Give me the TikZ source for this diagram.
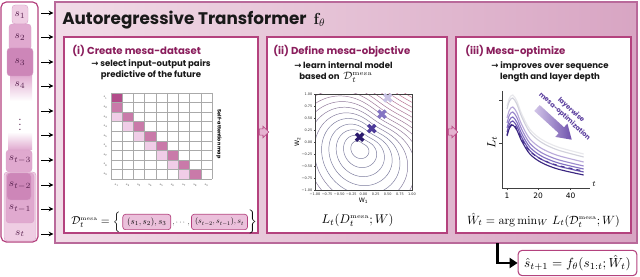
\documentclass[tikz,border=0pt]{standalone}
\usepackage{amsmath}
\usepackage{graphicx}
\usepackage[no-math]{fontspec}
\setmainfont{Poppins}
\newfontfamily\dejavu{DejaVu Sans}
\newfontfamily\lmr{Latin Modern Roman}
\usetikzlibrary{fit,shapes.arrows,arrows.meta,positioning}
\definecolor{mainL}{HTML}{F1DCE7}
\definecolor{mainR}{HTML}{D8A5C3}
\definecolor{mainB}{HTML}{B9699A}
\definecolor{panelB}{HTML}{B4427E}
\definecolor{titleC}{HTML}{8A1D5C}
\definecolor{tokL}{HTML}{EFCDE3}
\definecolor{tokM}{HTML}{E0A9CF}
\definecolor{tokD}{HTML}{CD86B8}
\definecolor{tokB}{HTML}{D9A0C8}
\definecolor{tokT}{HTML}{5A2350}
\definecolor{cellD}{HTML}{B24C8A}
\definecolor{cellM}{HTML}{C97AA9}
\definecolor{cellL}{HTML}{F0CDE7}
\definecolor{gridC}{HTML}{AAAAAA}
\definecolor{ctrA}{HTML}{7C7C9E}
\definecolor{ctrB}{HTML}{C46A8C}
\definecolor{crA}{HTML}{2B1A6E}
\definecolor{crB}{HTML}{4E3C9A}
\definecolor{crC}{HTML}{8474C2}
\definecolor{crD}{HTML}{C9C2E4}
\definecolor{boxF}{HTML}{EBC0DB}
\definecolor{harrF}{HTML}{E6B3D1}
\definecolor{lcA}{HTML}{E8E8EC}
\definecolor{lcB}{HTML}{D2D2DC}
\definecolor{lcC}{HTML}{B9AADA}
\definecolor{lcD}{HTML}{9C8ACE}
\definecolor{lcE}{HTML}{8270C2}
\definecolor{lcF}{HTML}{6A55B0}
\definecolor{lcG}{HTML}{4A3592}
\definecolor{lcH}{HTML}{3A2580}
\definecolor{arrL}{HTML}{D2C5E8}
\definecolor{arrR}{HTML}{6F52AD}
\definecolor{arrT}{HTML}{5B3E9E}
\newcommand\myarr{{\dejavu\bfseries →}}
\newcommand\fitw[2]{\resizebox{#1}{!}{#2}}
\newcommand\msa{^{\scriptscriptstyle\mathrm{mesa}}}
\begin{document}
\begin{tikzpicture}[x=0.75pt,y=-0.75pt,
  declare function={gg(\t)=0.15-0.07*(0.5+0.5*cos(\t-45))*(0.5+0.5*cos(\t-45))*(0.5+0.5*cos(\t-45))+0.05*(0.5+0.5*cos(\t+45))*(0.5+0.5*cos(\t+45));},
  mainbox/.style={draw=mainB, line width=0.8pt, left color=mainL, right color=mainR, inner sep=0pt},
  panel/.style={draw=panelB, line width=1pt, fill=white, inner sep=0pt},
  ttl/.style={font=\fontsize{12.6}{14}\selectfont\bfseries, text=black!90, inner sep=0pt, anchor=west},
  ptitle/.style={font=\fontsize{7.6}{9}\selectfont\bfseries, text=titleC, inner sep=0pt, anchor=west},
  pbody/.style={font=\fontsize{6.4}{8.6}\selectfont\bfseries, text=black!90, inner sep=0pt, align=center},
  tok/.style={draw=tokB, line width=0.3pt, rounded corners=2.5pt},
  toklab/.style={font=\fontsize{8}{10}\selectfont, text=tokT, inner sep=0pt},
  inarrow/.style={-{Stealth[length=3.6pt,width=3.4pt]}, line width=0.6pt},
  hollow/.style={single arrow, draw=panelB, fill=harrF, line width=0.5pt, minimum height=6.5pt, inner sep=2.1pt, single arrow head extend=2pt},
  mlab/.style={font=\fontsize{2.8}{3}\selectfont, text=black!70, inner sep=0pt},
  tlab/.style={font=\fontsize{2.6}{3}\selectfont, text=black!80, inner sep=0pt},
  fbox/.style={draw=panelB, fill=boxF, line width=0.5pt, rounded corners=2pt, inner sep=0pt, minimum height=11.5pt},
  outbox/.style={draw=panelB, fill=white, line width=0.8pt, rounded corners=3pt, minimum width=89pt, minimum height=19pt, inner sep=0pt},
  arrtext/.style={font=\fontsize{5}{6}\selectfont\bfseries, text=arrT, inner sep=0pt}
]
\useasboundingbox (0,0) rectangle (640,277);

% ---------- main box ----------
\node[mainbox, fit={(55,2) (637,243)}] (main) {};
\node[ttl] (title) at (62,20) {Autoregressive Transformer \ {\fontsize{12}{14}\selectfont$\mathbf{f}_{\theta}$}};

\node[panel, fit={(64,37) (258,233)}] (p1) {};
\node[panel, fit={(267,37) (447,233)}] (p2) {};
\node[panel, fit={(456,37) (631,233)}] (p3) {};
\node[hollow] (h1) at (262.5,132) {};
\node[hollow] (h2) at (451.5,132) {};

% ---------- left column ----------
\node[draw=panelB, fill=white, line width=0.9pt, rounded corners=4pt, inner sep=0pt, fit={(1,2) (38,242)}] (col) {};
\draw[tok, fill=tokL] (12,5) rectangle (28,24);
\draw[tok, fill=tokM] (9,24) rectangle (31,50);
\shade[top color=tokM, bottom color=white] (10,75) rectangle (32,101);
\draw[tok, fill=tokD] (7,48) rectangle (33,76);
\shade[top color=white, bottom color=tokM] (8,132) rectangle (32,150);
\draw[tok, fill=tokM] (6,150) rectangle (32,172);
\draw[tok, fill=tokL] (4,172) rectangle (36,241);
\draw[tok, fill=tokM] (6,173) rectangle (34,223);
\draw[tok, fill=tokD] (7,173) rectangle (31,200);
\node[toklab] (t1) at (20,15) {$s_1$};
\node[toklab] (t2) at (20,37) {$s_2$};
\node[toklab] (t3) at (20,62) {$s_3$};
\node[toklab] (t4) at (20,85) {$s_4$};
\node[toklab] (tv) at (20,121) {$\vdots$};
\node[toklab] (t5) at (20,160) {$s_{t-3}$};
\node[toklab] (t6) at (20,186) {$s_{t-2}$};
\node[toklab] (t7) at (20,209) {$s_{t-1}$};
\node[toklab] (t8) at (20,234) {$s_t$};
\foreach \yy in {13,37,62,86,111,135,160,185,209,234} {
  \coordinate (as) at (41,\yy);
  \coordinate (ae) at (53.5,\yy);
  \draw[inarrow] (as) -- (ae);
}

% ---------- panel (i) ----------
\node[ptitle] (p1t) at (72,51) {(i) Create mesa-dataset};
\node[pbody] (p1b) at (151,69.5) {\myarr\ select input-output pairs\\predictive of the future};
\fill[cellD] (111,93) rectangle ({111+11.222},{93+9.556});
\fill[cellM] (111,{93+9.556}) rectangle ({111+11.222},{93+2*9.556});
\foreach \r in {3,...,9} {
  \fill[cellL] ({111+(\r-3)*11.222},{93+(\r-1)*9.556}) rectangle ({111+(\r-2)*11.222},{93+\r*9.556});
  \fill[cellM] ({111+(\r-2)*11.222},{93+(\r-1)*9.556}) rectangle ({111+(\r-1)*11.222},{93+\r*9.556});
}
\foreach \i in {0,...,9} {
  \draw[gridC, line width=0.4pt] ({111+\i*11.222},93) -- ({111+\i*11.222},179);
  \draw[gridC, line width=0.4pt] (111,{93+\i*9.556}) -- (212,{93+\i*9.556});
}
\foreach \i in {1,...,9} {
  \node[mlab] (rl\i) at (105.5,{93+(\i-0.5)*9.556}) {{\lmr\itshape s}\textsubscript{\lmr\i}};
  \node[mlab] (cl\i) at ({111+(\i-0.5)*11.222},185.5) {{\lmr\itshape s}\textsubscript{\lmr\i}};
}
\node[font=\fontsize{3.7}{4}\selectfont\bfseries, inner sep=0pt, rotate=-90] (sam) at (219,134) {Self-attention map};
\node[anchor=west, inner sep=0pt] (dm) at (71,222) {\fitw{37pt}{$\mathcal{D}_t\msa = \Big\{$}};
\node[fbox, minimum width=36pt, right=1.2pt of dm] (b1) {\fitw{29.5pt}{$(s_1,s_2),s_3$}};
\node[inner sep=0pt, right=0.8pt of b1, yshift=-1.5pt] (cd) {\fitw{13pt}{$,\cdots,$}};
\node[fbox, minimum width=42pt, right=0.8pt of cd, yshift=1.5pt] (b2) {\fitw{36.5pt}{$(s_{t-2},s_{t-1}),s_t$}};
\node[inner sep=0pt, font=\fontsize{10}{12}\selectfont, right=0.5pt of b2] (rb) {$\Big\}$};

% ---------- panel (ii) ----------
\node[ptitle] (p2t) at (273,51) {(ii) Define mesa-objective};
\node[pbody, anchor=west] (p2b1) at (294,65) {\myarr\ learn internal model};
\node[pbody, anchor=west] (p2b2) at (299,77.5) {based on \ {\fontsize{8}{9}\selectfont$\mathcal{D}_t\msa$}};
\begin{scope}[shift={(363.5,142)}, x=36.375pt, y=36pt]
  \begin{scope}
    \clip (-1,-1) rectangle (1,1);
    \foreach \k in {1,...,19} {
      \pgfmathtruncatemacro\pct{min(100,max(0,(\k-5)*9))}
      \colorlet{cc}{ctrB!\pct!ctrA}
      \draw[cc, line width=0.35pt] plot[smooth cycle, domain=0:355, samples=72, variable=\t]
        ({-0.08+(\k+0.2)*gg(\t)*cos(\t)},{-0.12+(\k+0.2)*gg(\t)*sin(\t)});
    }
  \end{scope}
  \draw[black!75, line width=0.35pt] (-1,-1) rectangle (1,1);
  \foreach \v/\lab in {-1/{−1.00},-0.75/{−0.75},-0.5/{−0.50},-0.25/{−0.25},0/0.00,0.25/0.25,0.5/0.50,0.75/0.75,1/1.00} {
    \draw[black!75, line width=0.3pt] (-1,\v) -- (-1.03,\v);
    \draw[black!75, line width=0.3pt] (\v,-1) -- (\v,-1.03);
    \node[tlab, anchor=east] (yl) at (-1.05,\v) {\dejavu\lab};
    \node[tlab, anchor=north] (xl) at (\v,-1.05) {\dejavu\lab};
  }
  \node[font=\fontsize{4.6}{5}\selectfont\dejavu, rotate=90, inner sep=0pt] (w2) at (-1.36,0) {W\textsubscript{2}};
  \node[font=\fontsize{4.6}{5}\selectfont\dejavu, inner sep=0pt] (w1) at (0,-1.23) {W\textsubscript{1}};
  \foreach \px/\py/\cl in {0.5/0.92/crD, 0.38/0.58/crC, 0.17/0.28/crB, -0.08/0.1/crA} {
    \draw[\cl, line width=2.5pt] ({\px-0.075},{\py-0.075}) -- ({\px+0.075},{\py+0.075})
                                 ({\px-0.075},{\py+0.075}) -- ({\px+0.075},{\py-0.075});
  }
\end{scope}
\node[inner sep=0pt] (lf) at (357.5,220) {\fitw{54pt}{$L_t(D_t\msa;W)$}};

% ---------- panel (iii) ----------
\node[ptitle] (p3t) at (465,51) {(iii) Mesa-optimize};
\node[pbody] (p3b) at (550,71.5) {\myarr\ improves over sequence\\length and layer depth};
\draw[black!75, line width=0.45pt] (502,91) -- (502,188) -- (590,188);
\draw[black!75, line width=0.45pt] (502,100) -- (499,100) (502,143) -- (499,143);
\foreach \tk in {1,20,40} {
  \draw[black!75, line width=0.45pt] ({505.4+1.63*\tk},188) -- ({505.4+1.63*\tk},190.5);
  \node[font=\fontsize{5.6}{6}\selectfont\dejavu, inner sep=0pt] (xt\tk) at ({505.4+1.63*\tk},195.5) {\tk};
}
\node[font=\fontsize{6}{7}\selectfont, inner sep=0pt] (tl) at (594,184) {$t$};
\node[font=\fontsize{9}{10}\selectfont, inner sep=0pt, rotate=90] (ll) at (492,142) {$L_t$};
\foreach \P/\E/\cl/\sty in {95/154/lcA/solid, 98/157/lcB/solid, 107/162/lcC/solid, 112/166/lcD/solid, 117/169/lcE/solid, 121/172/lcF/solid, 124/171/lcG/dashed, 125/175/lcH/solid} {
  \draw[\cl, \sty, line width=0.85pt] plot[smooth] coordinates {
    ({505.4+1.63*1},{\P+11}) ({505.4+1.63*2.5},{\P+3}) ({505.4+1.63*4.5},{\P})
    ({505.4+1.63*7},{\P+0.1*(\E-\P)}) ({505.4+1.63*10},{\P+0.32*(\E-\P)})
    ({505.4+1.63*15},{\P+0.58*(\E-\P)}) ({505.4+1.63*22},{\P+0.75*(\E-\P)})
    ({505.4+1.63*32},{\P+0.88*(\E-\P)}) ({505.4+1.63*48},{\E})};
}
\begin{scope}[shift={(537,108)}, rotate=-42.4]
  \shade[left color=arrL, right color=arrR] (0,-4) -- (33,-4) -- (33,-9) -- (47,0) -- (33,9) -- (33,4) -- (0,4) -- cycle;
\end{scope}
\node[arrtext, rotate=-42.4] (lw) at (571,110) {layerwise};
\node[arrtext, rotate=-42.4] (mo) at (564.5,116.5) {mesa-optimization};
\node[inner sep=0pt] (wf) at (543.5,220) {\fitw{114.5pt}{$\hat{W}_t = \arg\min\nolimits_W\, L_t(\mathcal{D}_t\msa;W)$}};

% ---------- output ----------
\node[outbox] (out) at (577.5,263) {\fitw{80pt}{$\hat{s}_{t+1} = f_\theta(s_{1:t};\hat{W}_t)$}};
\coordinate (elb) at (497.5,243.5);
\draw[line width=2.2pt, -{Triangle[length=6pt,width=7.5pt]}] (elb) |- (out.west);
\end{tikzpicture}
\end{document}
